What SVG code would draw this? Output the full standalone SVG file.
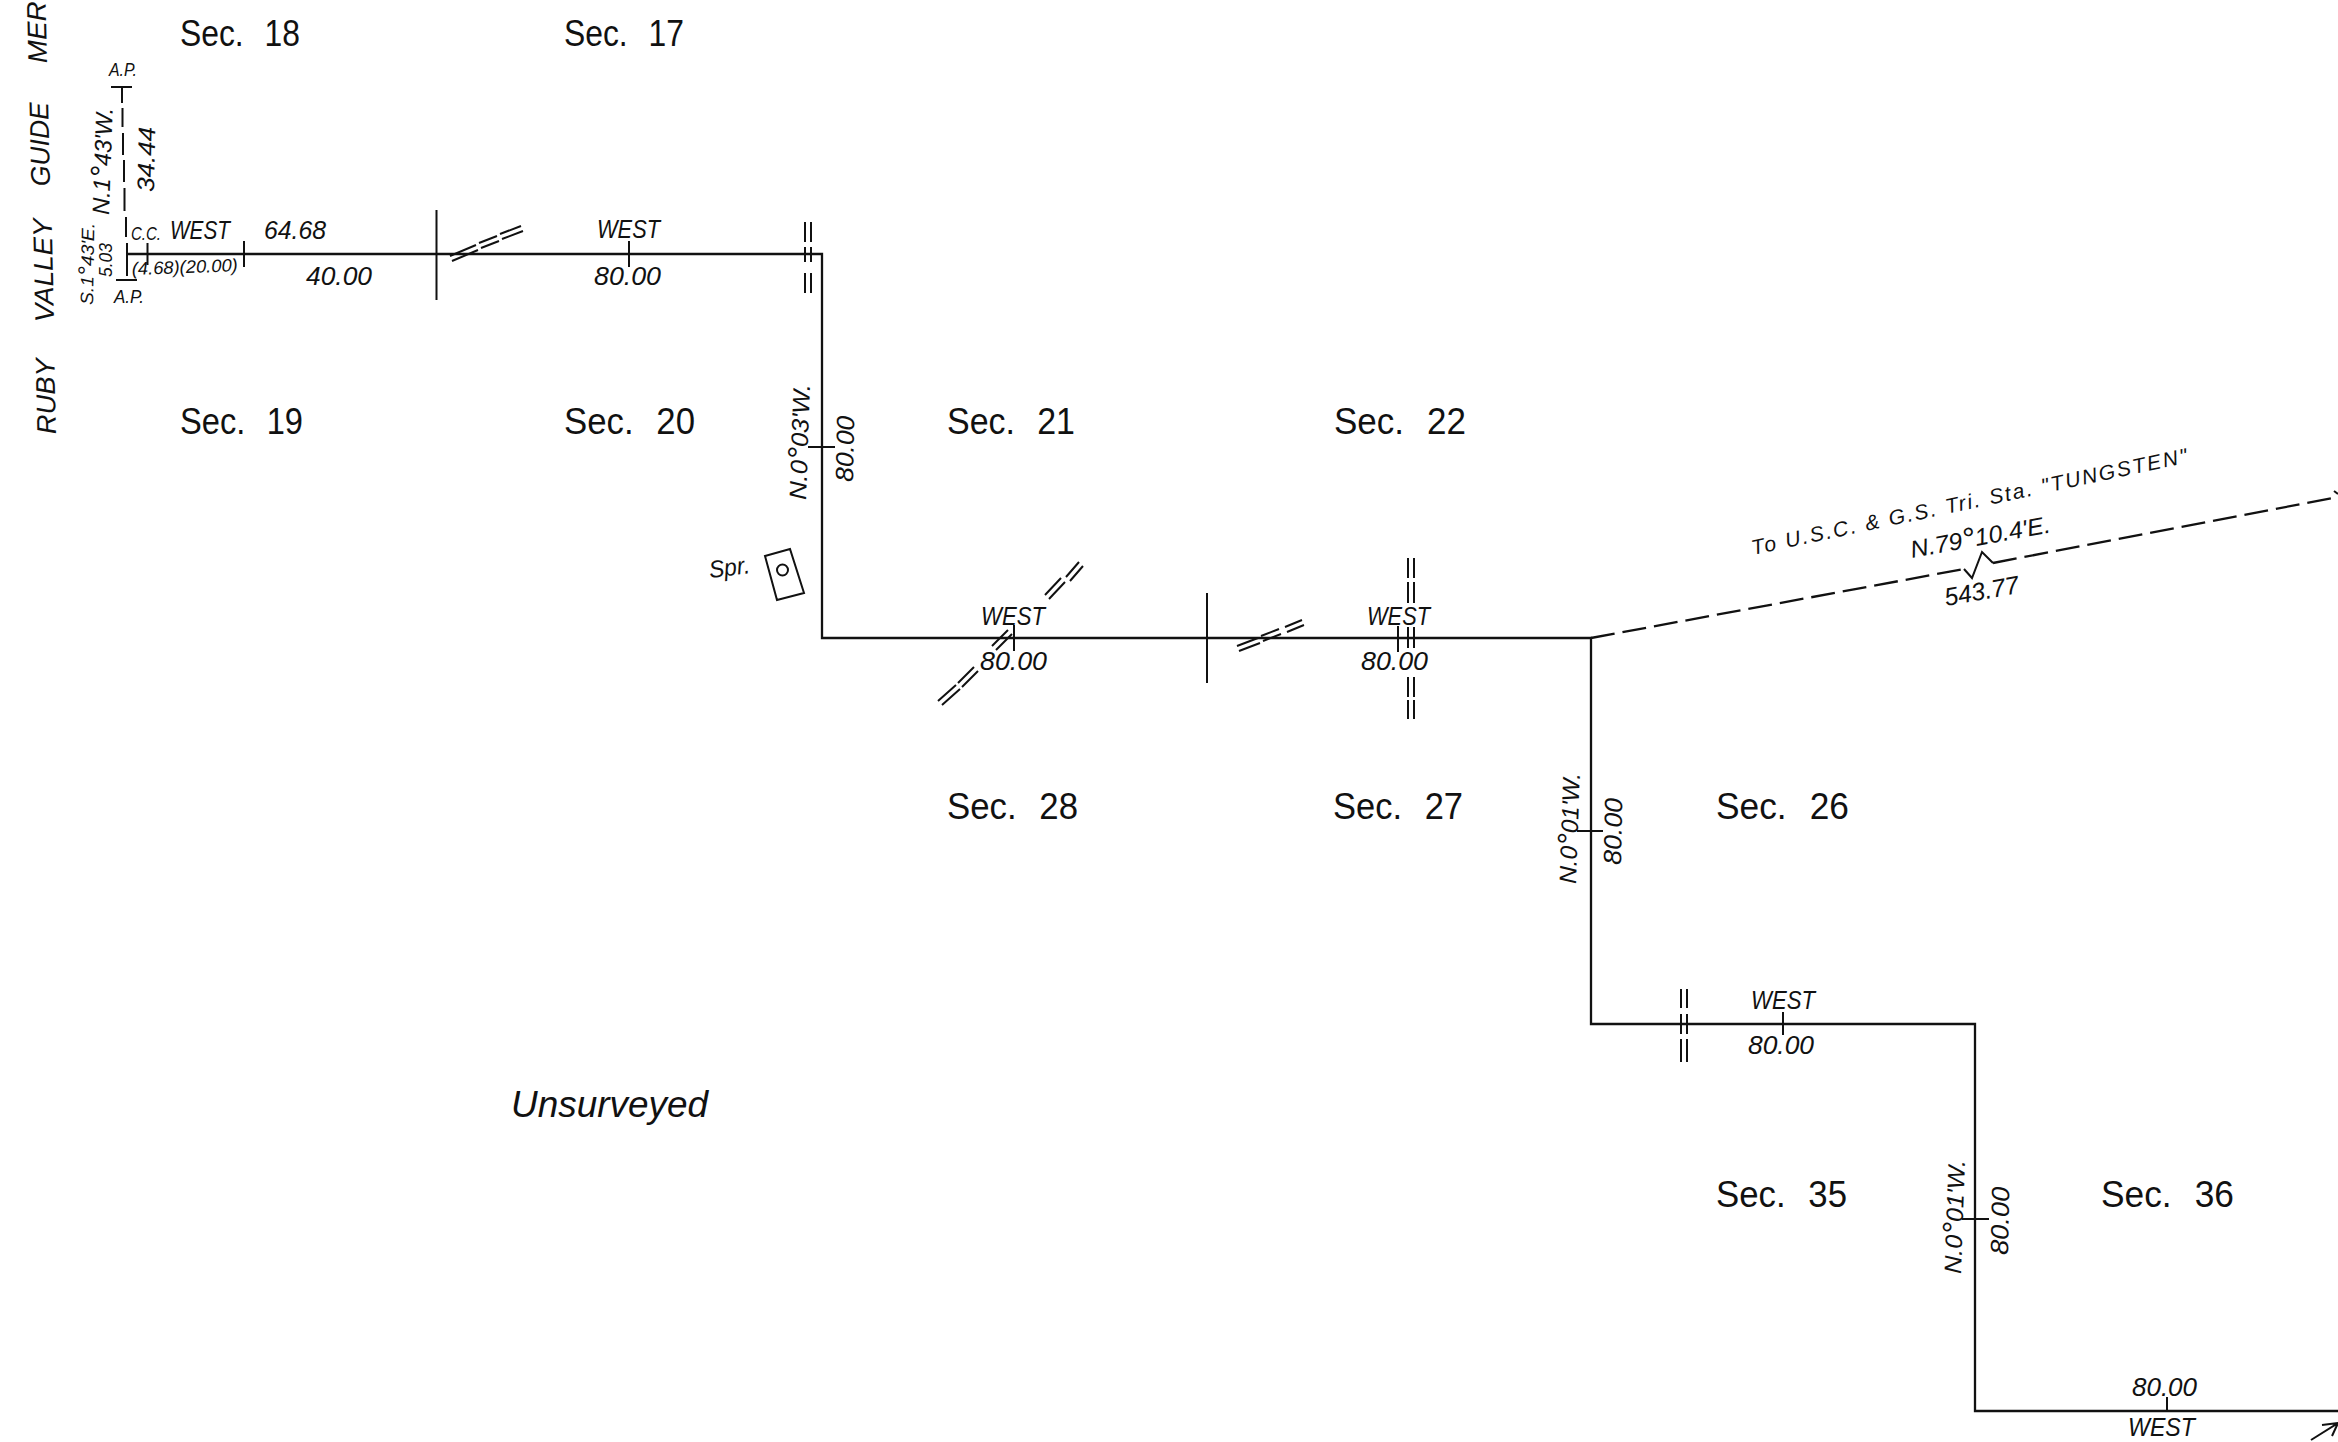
<svg xmlns="http://www.w3.org/2000/svg" width="2338" height="1442" viewBox="0 0 2338 1442">
<style>
text{font-family:"Liberation Sans",Arial,sans-serif;fill:#111}
.sec{font-size:37px;word-spacing:14px}
.it{font-style:italic;word-spacing:0}
.s{font-size:25px;font-style:italic}
.m{font-size:24px;font-style:italic}
.t{font-size:18px;font-style:italic}
.g{font-size:27px;font-style:italic}
.n{font-size:21px;font-style:italic}
.deg{font-size:1.3em}
.l{fill:none;stroke:#111;stroke-width:2.3}
.w{fill:none;stroke:#111;stroke-width:2}
.d{fill:none;stroke:#111;stroke-width:2.3;stroke-dasharray:24 8}
</style>
<rect width="2338" height="1442" fill="#fff"/>
<g id="connectors">
<path class="l" d="M127 254H822V638H1591V1024H1975V1411H2338"/>
<path class="w" d="M111 87H132M122 87V103M122.500 108V127M123 133V155M124 160V182M124.500 188V211M126 217V237M127 243V270M127 257V276M116 280H137"/>
<path class="w" d="M147.500 243V265M244 241V267M436.500 210V300M629 241V267"/>
<path class="w" d="M808 447H835M1207 593V683M1014 625V651M1398 626V652M1577 831H1603M1783 1012V1035M1962 1219H1989M2167 1397V1411"/>
<path class="w" d="M450 256L476 245M479 243L497 236M500 234L521 226M452 261L478 250M481 248L499 241M502 239L523 231"/>
<path class="w" d="M805 222V242M811 222V242M805 247V262M811 247V262M805 273V293M811 273V293"/>
<path class="w" d="M938 701L956 685M958 683L974 667M942 705L960 689M962 687L978 671M992 646L1008 630M996 650L1012 634M1045 595L1061 578M1049 599L1065 582M1066 577L1079 562M1070 581L1083 566"/>
<path class="w" d="M1237 646L1258 638M1261 636L1279 629M1285 627L1302 620M1239 651L1260 643M1263 641L1281 634M1287 632L1304 625"/>
<path class="w" d="M1408 558V578M1414 558V578M1408 582V603M1414 582V603M1408 627V648M1414 627V648M1408 677V697M1414 677V697M1408 700V719M1414 700V719"/>
<path class="w" d="M1681 989V1008M1687 989V1008M1681 1014V1034M1687 1014V1034M1681 1039V1062M1687 1039V1062"/>
<path class="d" d="M1591 638L1964 569"/>
<path class="w" d="M1964 569L1972 578L1982 552L1993 563"/>
<path class="d" d="M1993 563L2338 497"/>
<path class="w" d="M2334 491L2338 494"/>
<path class="w" d="M2311 1440L2338 1423M2322 1425L2338 1423L2332 1436"/>
</g>
<g id="spring">
<path class="w" d="M765 556L790 549L804 593L777 600Z"/>
<circle class="w" cx="782.500" cy="570" r="5.500"/>
<text class="m" x="710" y="578" textLength="41" lengthAdjust="spacingAndGlyphs" transform="rotate(-7 710 578)">Spr.</text>
</g>
<g id="sections">
<text class="sec" x="180" y="46" textLength="120" lengthAdjust="spacingAndGlyphs">Sec. 18</text>
<text class="sec" x="564" y="46" textLength="120" lengthAdjust="spacingAndGlyphs">Sec. 17</text>
<text class="sec" x="180" y="434" textLength="123" lengthAdjust="spacingAndGlyphs">Sec. 19</text>
<text class="sec" x="564" y="434" textLength="131" lengthAdjust="spacingAndGlyphs">Sec. 20</text>
<text class="sec" x="947" y="434" textLength="128" lengthAdjust="spacingAndGlyphs">Sec. 21</text>
<text class="sec" x="1334" y="434" textLength="132" lengthAdjust="spacingAndGlyphs">Sec. 22</text>
<text class="sec" x="947" y="819" textLength="131" lengthAdjust="spacingAndGlyphs">Sec. 28</text>
<text class="sec" x="1333" y="819" textLength="130" lengthAdjust="spacingAndGlyphs">Sec. 27</text>
<text class="sec" x="1716" y="819" textLength="133" lengthAdjust="spacingAndGlyphs">Sec. 26</text>
<text class="sec" x="1716" y="1207" textLength="131" lengthAdjust="spacingAndGlyphs">Sec. 35</text>
<text class="sec" x="2101" y="1207" textLength="133" lengthAdjust="spacingAndGlyphs">Sec. 36</text>
<text class="sec it" x="511" y="1117" textLength="197" lengthAdjust="spacingAndGlyphs">Unsurveyed</text>
</g>
<g id="meridian">
<text class="g" x="56" y="434" textLength="76" lengthAdjust="spacingAndGlyphs" transform="rotate(-91.300 56 434)">RUBY</text>
<text class="g" x="54" y="322" textLength="104" lengthAdjust="spacingAndGlyphs" transform="rotate(-91.300 54 322)">VALLEY</text>
<text class="g" x="50" y="186" textLength="84" lengthAdjust="spacingAndGlyphs" transform="rotate(-91.300 50 186)">GUIDE</text>
<text class="g" x="47" y="63" textLength="62" lengthAdjust="spacingAndGlyphs" transform="rotate(-91.300 47 63)">MER</text>
</g>
<g id="labels">
<text class="t" x="109" y="76" textLength="28" lengthAdjust="spacingAndGlyphs">A.P.</text>
<text class="t" x="114" y="303" textLength="30" lengthAdjust="spacingAndGlyphs">A.P.</text>
<text class="m" x="109" y="215" textLength="107" lengthAdjust="spacingAndGlyphs" transform="rotate(-88 109 215)">N.1<tspan class="deg" dy="2">°</tspan><tspan dy="-2">43'W.</tspan></text>
<text class="m" x="154" y="192" textLength="65" lengthAdjust="spacingAndGlyphs" transform="rotate(-89 154 192)">34.44</text>
<text class="t" x="93" y="305" textLength="82" lengthAdjust="spacingAndGlyphs" transform="rotate(-89 93 305)">S.1<tspan class="deg" dy="1">°</tspan><tspan dy="-1">43'E.</tspan></text>
<text class="t" x="112" y="277" textLength="34" lengthAdjust="spacingAndGlyphs" transform="rotate(-90 112 277)">5.03</text>
<text class="t" x="131" y="240" textLength="30" lengthAdjust="spacingAndGlyphs">C.C.</text>
<text class="s" x="170" y="239" textLength="60" lengthAdjust="spacingAndGlyphs">WEST</text>
<text class="s" x="264" y="239" textLength="62" lengthAdjust="spacingAndGlyphs">64.68</text>
<text class="t" x="132" y="275" textLength="106" lengthAdjust="spacingAndGlyphs" transform="rotate(-2 132 275)">(4.68)(20.00)</text>
<text class="s" x="306" y="285" textLength="66" lengthAdjust="spacingAndGlyphs">40.00</text>
<text class="s" x="597" y="238" textLength="63" lengthAdjust="spacingAndGlyphs">WEST</text>
<text class="s" x="594" y="285" textLength="67" lengthAdjust="spacingAndGlyphs">80.00</text>
<text class="m" x="806" y="500" textLength="116" lengthAdjust="spacingAndGlyphs" transform="rotate(-88 806 500)">N.0<tspan class="deg" dy="2">°</tspan><tspan dy="-2">03'W.</tspan></text>
<text class="s" x="853" y="482" textLength="66" lengthAdjust="spacingAndGlyphs" transform="rotate(-89 853 482)">80.00</text>
<text class="s" x="981" y="625" textLength="64" lengthAdjust="spacingAndGlyphs">WEST</text>
<text class="s" x="980" y="670" textLength="67" lengthAdjust="spacingAndGlyphs">80.00</text>
<text class="s" x="1367" y="625" textLength="63" lengthAdjust="spacingAndGlyphs">WEST</text>
<text class="s" x="1361" y="670" textLength="67" lengthAdjust="spacingAndGlyphs">80.00</text>
<text class="m" x="1576" y="884" textLength="111" lengthAdjust="spacingAndGlyphs" transform="rotate(-88 1576 884)">N.0<tspan class="deg" dy="2">°</tspan><tspan dy="-2">01'W.</tspan></text>
<text class="s" x="1621" y="865" textLength="67" lengthAdjust="spacingAndGlyphs" transform="rotate(-89 1621 865)">80.00</text>
<text class="s" x="1751" y="1009" textLength="64" lengthAdjust="spacingAndGlyphs">WEST</text>
<text class="s" x="1748" y="1054" textLength="66" lengthAdjust="spacingAndGlyphs">80.00</text>
<text class="m" x="1961" y="1274" textLength="114" lengthAdjust="spacingAndGlyphs" transform="rotate(-88 1961 1274)">N.0<tspan class="deg" dy="2">°</tspan><tspan dy="-2">01'W.</tspan></text>
<text class="s" x="2008" y="1255" textLength="68" lengthAdjust="spacingAndGlyphs" transform="rotate(-89 2008 1255)">80.00</text>
<text class="s" x="2132" y="1396" textLength="65" lengthAdjust="spacingAndGlyphs">80.00</text>
<text class="s" x="2128" y="1436" textLength="67" lengthAdjust="spacingAndGlyphs">WEST</text>
<text class="n" x="1753" y="555" textLength="445" lengthAdjust="spacing" transform="rotate(-12 1753 555)">To U.S.C. &amp; G.S.  Tri. Sta. "TUNGSTEN"</text>
<text class="m" x="1912" y="558" textLength="142" lengthAdjust="spacingAndGlyphs" transform="rotate(-10.500 1912 558)">N.79<tspan class="deg" dy="2">°</tspan><tspan dy="-2">10.4'E.</tspan></text>
<text class="s" x="1946" y="606" textLength="75" lengthAdjust="spacingAndGlyphs" transform="rotate(-10 1946 606)">543.77</text>
</g>
</svg>
